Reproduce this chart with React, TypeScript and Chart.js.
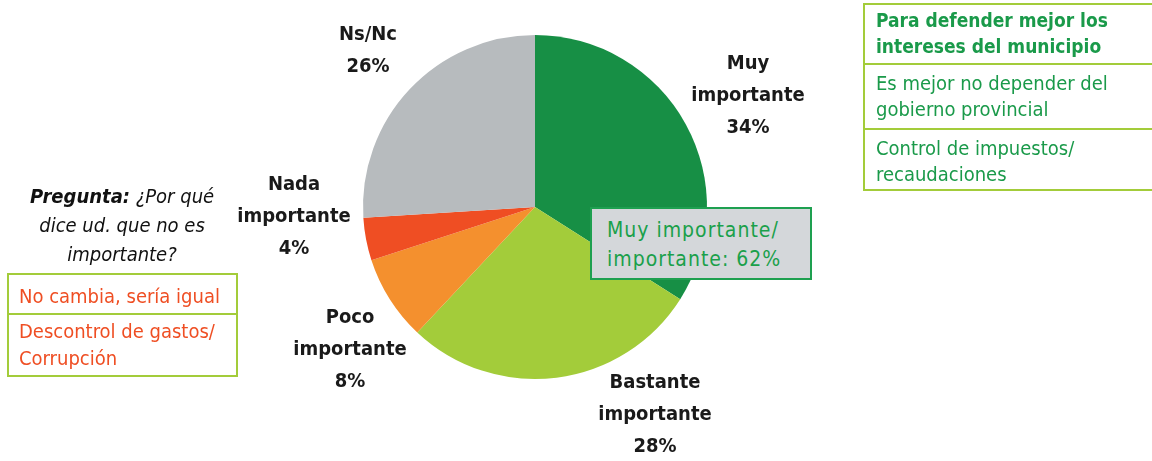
import React, { useEffect, useRef } from "react";
import { Chart, registerables } from "chart.js";

Chart.register(...registerables);

const categories = ["Muy importante", "Bastante importante", "Poco importante", "Nada importante", "Ns/Nc"];
const labelLines = [["Muy", "importante"], ["Bastante", "importante"], ["Poco", "importante"], ["Nada", "importante"], ["Ns/Nc"]];
const values = [34, 28, 8, 4, 26];
const colors = ["#178F45", "#A3CC3A", "#F4902E", "#EF4E23", "#B7BBBE"];

const positiveReasons = ["Para defender mejor los intereses del municipio", "Es mejor no depender del gobierno provincial", "Control de impuestos/ recaudaciones"];
const negativeReasons = ["No cambia, sería igual", "Descontrol de gastos/ Corrupción"];
const calloutText = ["Muy importante/", "importante: 62%"];

// layout (label centers, in px)
const labelPos = [
  { x: 748, y: 46 },
  { x: 655, y: 365 },
  { x: 350, y: 300 },
  { x: 294, y: 167 },
  { x: 368, y: 17 },
];

const FONT = '"DejaVu Sans Condensed", "DejaVu Sans", sans-serif';

export default function App() {
  const ref = useRef<HTMLCanvasElement | null>(null);
  useEffect(() => {
    document.body.style.margin = "0";
    const chart = new Chart(ref.current!, {
      type: "pie",
      data: {
        labels: categories,
        datasets: [{ data: values, backgroundColor: colors, borderWidth: 0 }],
      },
      options: {
        responsive: false,
        animation: false,
        rotation: 0,
        layout: { padding: { left: 363, right: 445, top: 35, bottom: 82 } },
        plugins: { legend: { display: false }, tooltip: { enabled: false } },
      },
    });
    return () => chart.destroy();
  }, []);

  return (
    <div style={{ position: "relative", width: 1152, height: 461, overflow: "hidden", background: "#fff", fontFamily: FONT }}>
      <canvas ref={ref} width={1152} height={461} style={{ position: "absolute", left: 0, top: 0 }} />
      {categories.map((c, i) => (
        <div key={c} style={{ position: "absolute", left: labelPos[i].x - 80, top: labelPos[i].y, width: 160, textAlign: "center", fontWeight: "bold", fontSize: 20, lineHeight: "32px", color: "#1a1a1a" }}>
          {labelLines[i].map((l) => (<div key={l}>{l}</div>))}
          <div>{values[i]}%</div>
        </div>
      ))}
      <div style={{ position: "absolute", left: 2, top: 182, width: 240, textAlign: "center", fontStyle: "italic", fontSize: 20, lineHeight: "29px", color: "#111" }}>
        <b>Pregunta:</b> ¿Por qué<br />dice ud. que no es<br />importante?
      </div>
      <div style={{ position: "absolute", left: 7, top: 273, width: 231, height: 104, boxSizing: "border-box", border: "2px solid #A3CC3A", color: "#EF4E23", fontSize: 20 }}>
        <div style={{ height: 40, borderBottom: "2px solid #A3CC3A", padding: "8px 0 0 10px", boxSizing: "border-box", lineHeight: "26px", whiteSpace: "nowrap" }}>{negativeReasons[0]}</div>
        <div style={{ padding: "3px 0 0 10px", lineHeight: "27px", width: 215 }}>{negativeReasons[1]}</div>
      </div>
      <div style={{ position: "absolute", left: 863, top: 3, width: 300, height: 188, boxSizing: "border-box", border: "2px solid #A3CC3A", color: "#1A9A4A", fontSize: 20, lineHeight: "26px" }}>
        {positiveReasons.map((r, i) => (
          <div key={r} style={{ height: i === 0 ? 60 : i === 1 ? 65 : 60, boxSizing: "border-box", borderBottom: i < 2 ? "2px solid #A3CC3A" : "none", padding: i === 0 ? "2px 0 0 11px" : "5px 0 0 11px", width: 300, fontWeight: i === 0 ? "bold" : "normal", fontSize: i === 0 ? 19 : 20 }}>
            <div style={{ width: 250 }}>{r}</div>
          </div>
        ))}
      </div>
      <div style={{ position: "absolute", left: 590, top: 207, width: 222, height: 73, boxSizing: "border-box", border: "2px solid #1EA050", background: "#D4D7DA", color: "#1AA04A", fontSize: 21, lineHeight: "29px", padding: "7px 0 0 15px", letterSpacing: 1, whiteSpace: "nowrap" }}>
        {calloutText.map((t) => (<div key={t}>{t}</div>))}
      </div>
    </div>
  );
}
